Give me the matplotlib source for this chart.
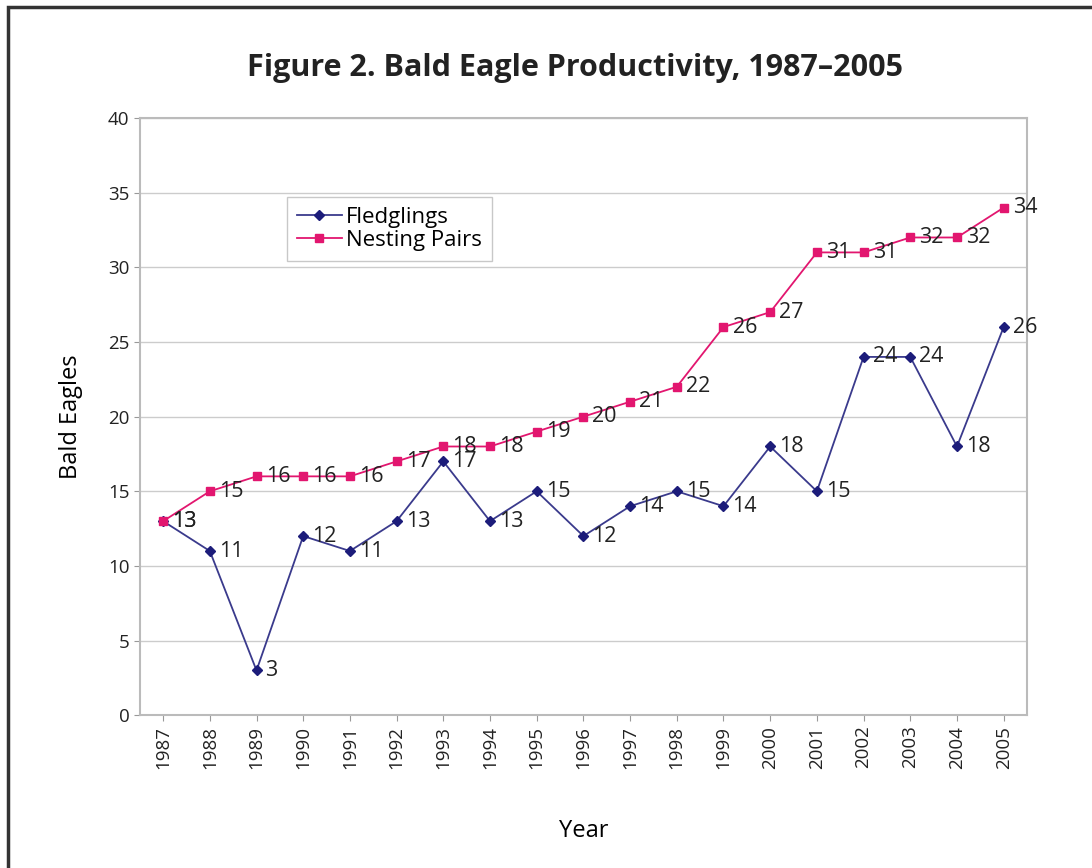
import matplotlib
matplotlib.use("Agg")
import matplotlib.pyplot as plt
from matplotlib.patches import Rectangle

# datos
anios = ["1987", "1988", "1989", "1990", "1991", "1992", "1993", "1994", "1995", "1996",
         "1997", "1998", "1999", "2000", "2001", "2002", "2003", "2004", "2005"]
polluelos = [13, 11, 3, 12, 11, 13, 17, 13, 15, 12, 14, 15, 14, 18, 15, 24, 24, 18, 26]
parejas = [13, 15, 16, 16, 16, 17, 18, 18, 19, 20, 21, 22, 26, 27, 31, 31, 32, 32, 34]
yticks = [0, 5, 10, 15, 20, 25, 30, 35, 40]

plt.rcParams["font.family"] = ["Open Sans", "DejaVu Sans"]

fig = plt.figure(figsize=(10.92, 8.68), dpi=100)
ax = fig.add_axes([0.128, 0.176, 0.8125, 0.688])

x = list(range(len(anios)))
azul = "#1c1c7a"
rosa = "#e2166f"
ax.plot(x, polluelos, color="#3a3a8c", lw=1.3, marker="D", ms=5,
        mfc=azul, mec=azul, label="Fledglings", zorder=3)
ax.plot(x, parejas, color=rosa, lw=1.3, marker="s", ms=5.5,
        mfc=rosa, mec=rosa, label="Nesting Pairs", zorder=3)

for xi, v in zip(x, polluelos):
    ax.annotate(str(v), (xi, v), xytext=(6.5, 0), textcoords="offset points",
                ha="left", va="center", fontsize=15.5, color="#222222")
for xi, v in zip(x, parejas):
    ax.annotate(str(v), (xi, v), xytext=(6.5, 0), textcoords="offset points",
                ha="left", va="center", fontsize=15.5, color="#222222")

ax.set_xlim(-0.5, len(anios) - 0.5)
ax.set_ylim(0, 40)
ax.set_yticks(yticks)
ax.set_xticks(x, anios, rotation=90)
ax.tick_params(axis="both", labelsize=13.5, length=4, color="#999999", colors="#222222")
ax.grid(axis="y", color="#cccccc", lw=1)
ax.set_axisbelow(True)
for s in ax.spines.values():
    s.set_color("#bbbbbb")
    s.set_linewidth(1.5)

ax.set_ylabel("Bald Eagles", fontsize=17, labelpad=18)
ax.set_xlabel("Year", fontsize=17, labelpad=36)
fig.text(0.527, 0.922, "Figure 2. Bald Eagle Productivity, 1987–2005",
         ha="center", va="center", fontsize=22, fontweight="bold", color="#222222")

leg = ax.legend(loc="upper left", bbox_to_anchor=(0.166, 0.868), fontsize=16,
                frameon=True, fancybox=False, edgecolor="#bbbbbb",
                handlelength=2.0, borderpad=0.45, labelspacing=0.1, handletextpad=0.2,
                borderaxespad=0)
leg.get_frame().set_linewidth(1)

# marco exterior (solo se ve arriba y a la izquierda)
fig.patches.append(Rectangle((0.007, -0.05), 1.1, 1.042, transform=fig.transFigure,
                             fill=False, ec="#333333", lw=2.5))

fig.savefig("out.png", dpi=100)
